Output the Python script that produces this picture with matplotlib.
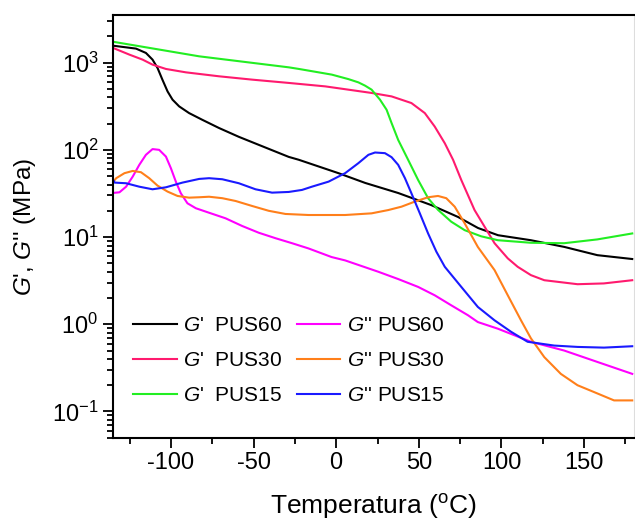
import numpy as np
import matplotlib
matplotlib.use("Agg")
import matplotlib.pyplot as plt
from matplotlib.ticker import MultipleLocator, LogLocator

plt.rcParams['font.family'] = ['Liberation Sans', 'DejaVu Sans']
plt.rcParams['mathtext.fontset'] = 'custom'
plt.rcParams['mathtext.rm'] = 'Liberation Sans'
plt.rcParams['mathtext.it'] = 'Liberation Sans:italic'
plt.rcParams['mathtext.bf'] = 'Liberation Sans:bold'
plt.rcParams['axes.unicode_minus'] = False

# G' PUS60 (black)
t_gp60 = [-135.4, -129.2, -121.1, -115.1, -111.1, -108.1, -105.1, -102.0, -99.0, -95.0, -89.0, -81.0, -70.9, -58.9, -46.8,
          -28.7, -22.7, 1.4, 17.6, 37.5, 57.4, 73.7, 85.8, 97.9, 117.8, 138.1, 158.0, 179.1]
v_gp60 = [1567, 1514, 1448, 1291, 1082, 870, 636, 467, 376, 315, 264, 221, 178, 141, 114,
          83, 77, 54, 41.7, 32, 23.3, 17, 12.7, 10.5, 9.2, 7.7, 6.2, 5.6]

# G' PUS30 (crimson)
t_gp30 = [-135.4, -125.1, -117.1, -111.1, -103.0, -91.0, -70.9, -50.8, -28.7, -6.6, 21.4, 33.5, 45.5, 53.6, 59.6, 65.7,
          70.7, 75.7, 83.7, 95.8, 103.8, 109.8, 117.8, 125.9, 146.0, 161.9, 179.1]
v_gp30 = [1485, 1235, 1082, 948, 846, 774, 697, 638, 585, 534, 449, 410, 344, 264, 185, 119,
          77, 45, 20.4, 8.5, 5.7, 4.56, 3.66, 3.2, 2.88, 2.94, 3.2]

# G' PUS15 (green)
t_gp15 = [-135.4, -82.9, -28.7, -22.7, -10.7, -2.6, 7.4, 13.4, 17.5, 21.4, 26.5, 30.5, 33.5, 37.5, 43.5, 49.6, 55.6,
          61.6, 69.6, 77.7, 87.7, 97.8, 117.8, 137.9, 158.0, 179.1]
v_gp15 = [1740, 1181, 883, 847, 774, 728, 647, 594, 544, 490, 376, 288, 203, 130, 77, 45, 27.9,
          20.5, 15, 12, 10.2, 9.2, 8.6, 8.5, 9.4, 11]

# G'' PUS60 (magenta)
t_gpp60 = [-135.4, -131.1, -127.1, -123.1, -119.1, -115.1, -111.1, -107.1, -103.0, -100.0, -97.0, -94.0, -90.0, -84.9,
           -76.9, -66.9, -56.9, -46.8, -36.7, -26.7, -16.7, -2.8, 5.4, 25.5, 37.5, 49.6, 59.6, 69.6, 79.7, 85.7, 97.8,
           117.8, 137.9, 158.0, 179.1]
v_gpp60 = [32, 32.6, 37.8, 49.3, 67.3, 87.7, 102, 100, 83.7, 61.6, 43.2, 31.8, 24.4, 21.4,
           19, 16.4, 13.4, 11.2, 9.7, 8.5, 7.4, 5.9, 5.4, 4.0, 3.3, 2.68, 2.15, 1.65, 1.27, 1.06, 0.89,
           0.63, 0.5, 0.37, 0.27]

# G'' PUS30 (orange)
t_gpp30 = [-135.4, -133.1, -128.1, -123.1, -118.1, -113.1, -108.1, -102.0, -96.0, -89.0, -82.9, -76.9, -68.9, -60.8,
           -50.8, -40.8, -30.7, -16.7, 5.4, 21.4, 31.5, 39.5, 47.6, 55.6, 61.6, 66.6, 71.7, 77.7, 85.7, 95.8, 103.8,
           111.8, 117.8, 125.9, 135.9, 146.0, 156.0, 168.1, 179.1]
v_gpp30 = [41.8, 47.3, 54, 57.3, 55.4, 47.3, 38.9, 33.2, 29.6, 28.3, 28.6, 29, 27.9, 25.9,
           22.7, 20, 18.4, 17.9, 17.9, 18.7, 20.4, 22.3, 25.5, 28.6, 29.6, 27.9, 22.3, 14.4, 7.7, 4.18, 2.15,
           1.11, 0.69, 0.42, 0.27, 0.2, 0.167, 0.134, 0.134]

# G'' PUS15 (blue)
t_gpp15 = [-135.4, -134.0, -127.1, -119.1, -111.1, -103.0, -93.0, -82.9, -76.9, -68.9, -58.9, -48.8, -38.8, -28.7,
           -20.7, -14.7, -4.6, 5.4, 13.4, 19.5, 23.5, 29.5, 33.5, 37.5, 41.6, 45.5, 50.6, 55.6, 60.6, 65.7, 75.7,
           85.7, 95.8, 105.8, 115.8, 131.9, 146.0, 162.0, 179.1]
v_gpp15 = [47, 42.1, 41.4, 37.8, 35.3, 37.2, 42.1, 46.4, 47.3, 46, 41.4, 35.3, 32.3, 32.9,
           34.7, 37.8, 43.2, 54, 70.3, 87.7, 93.2, 91.6, 82.4, 67.3, 47.3, 31.8, 18.7, 11, 6.8, 4.56, 2.68,
           1.58, 1.11, 0.82, 0.63, 0.57, 0.55, 0.54, 0.56]

fig = plt.figure(figsize=(6.35, 5.23), dpi=100)
ax = fig.add_axes([0.178, 0.163, 0.82, 0.808])

lw = 1.5
ax.plot(t_gp60, v_gp60, color='black', lw=lw, label="$G$'  PUS60")
ax.plot(t_gp30, v_gp30, color='#ff1a6e', lw=lw, label="$G$'  PUS30")
ax.plot(t_gp15, v_gp15, color='#22ee22', lw=lw, label="$G$'  PUS15")
ax.plot(t_gpp60, v_gpp60, color='#ff00ff', lw=lw, label="$G$'' PUS60")
ax.plot(t_gpp30, v_gpp30, color='#ff7f1a', lw=lw, label="$G$'' PUS30")
ax.plot(t_gpp15, v_gpp15, color='#1a1aff', lw=lw, label="$G$'' PUS15")

ax.set_yscale('log')
ax.set_xlim(-135, 180)
ax.set_ylim(0.05, 3500)

ax.xaxis.set_major_locator(MultipleLocator(50))
ax.xaxis.set_minor_locator(MultipleLocator(25))
ax.yaxis.set_major_locator(LogLocator(base=10))
ax.yaxis.set_minor_locator(LogLocator(base=10, subs=np.arange(2, 10)))

ax.tick_params(which='both', direction='out', top=False, right=False, labelsize=17, width=1.3)
ax.tick_params(which='major', length=7)
ax.tick_params(which='minor', length=4)

for s in ['left', 'bottom', 'top']:
    ax.spines[s].set_linewidth(1.5)
ax.spines['right'].set_color('#dddddd')
ax.spines['right'].set_linewidth(0.8)

ax.set_xlabel(r"Temperatura ($^{\mathrm{o}}$C)", fontsize=19, labelpad=13)
ax.set_ylabel("$G$', $G$'' (MPa)", fontsize=17.5, labelpad=10)

ax.legend(ncol=2, loc='lower left', bbox_to_anchor=(0.022, 0.057), frameon=False,
          fontsize=15, handlelength=2.1, handletextpad=0.3, columnspacing=0.7,
          labelspacing=0.78, borderaxespad=0)

fig.savefig('out.png', dpi=100)
